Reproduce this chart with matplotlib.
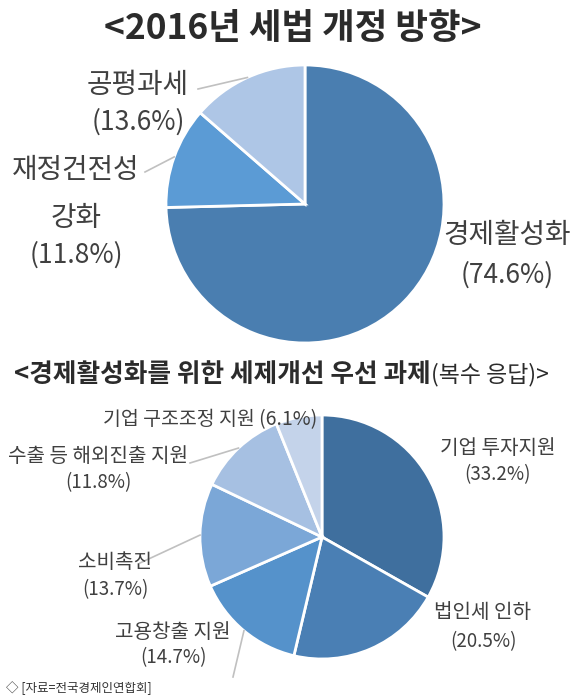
import matplotlib.pyplot as plt
import numpy as np

plt.rcParams['font.family'] = ['Noto Sans CJK KR', 'DejaVu Sans']

# data
title_top = "<2016년 세법 개정 방향>"
top_names = ["경제활성화", "재정건전성\n강화", "공평과세"]
top_values = [74.6, 11.8, 13.6]
top_colors = ["#4a7eb0", "#5b9bd5", "#aec6e6"]

title_bot_main = "<경제활성화를 위한 세제개선 우선 과제"
title_bot_sub = "(복수 응답)>"
bot_names = ["기업 투자지원", "법인세 인하", "고용창출 지원", "소비촉진",
             "수출 등 해외진출 지원", "기업 구조조정 지원"]
bot_values = [33.2, 20.5, 14.7, 13.7, 11.8, 6.1]
bot_colors = ["#3f6f9e", "#4a7fb4", "#5592cb", "#7ba7d7", "#a6c0e2", "#c4d3ea"]

source = "◇ [자료=전국경제인연합회]"

W, H = 582, 700
fig = plt.figure(figsize=(W / 100, H / 100), dpi=100)
fig.patch.set_facecolor("white")
txt_color = "#404040"
line_color = "#c0c0c0"


def make_pie_ax(cx, cy, r):
    ax = fig.add_axes([(cx - r) / W, (H - cy - r) / H, 2 * r / W, 2 * r / H])
    ax.axis("off")
    return ax


def to_data(px, py, cx, cy, r):
    return (px - cx) / r, (cy - py) / r


# ---- top pie
cx1, cy1, r1 = 305, 204, 139
ax1 = make_pie_ax(cx1, cy1, r1)
w1, _ = ax1.pie(top_values, colors=top_colors, startangle=90, counterclock=False,
                radius=1, wedgeprops=dict(edgecolor="white", linewidth=2))
ax1.set_xlim(-1, 1)
ax1.set_ylim(-1, 1)

# label layout: line centres (px), leader end (px) or None
top_layout = [
    (507, [235, 275], None),
    (76, [170, 218, 255], (145, 172)),
    (138, [85, 122], (198, 89)),
]
for wdg, name, val, (px, ys, lead) in zip(w1, top_names, top_values, top_layout):
    lines = name.split("\n") + [f"({val}%)"]
    for i, (s, py) in enumerate(zip(lines, ys)):
        x, y = to_data(px, py, cx1, cy1, r1)
        size = 19 if i == len(lines) - 1 else 20
        ax1.text(x, y, s, ha="center", va="center", fontsize=size,
                 color=txt_color, clip_on=False)
    if lead is not None:
        ang = np.deg2rad((wdg.theta1 + wdg.theta2) / 2)
        ex, ey = to_data(lead[0], lead[1], cx1, cy1, r1)
        ax1.plot([np.cos(ang), ex], [np.sin(ang), ey], color=line_color,
                 lw=1.2, clip_on=False)

# ---- bottom pie
cx2, cy2, r2 = 322, 537, 122
ax2 = make_pie_ax(cx2, cy2, r2)
w2, _ = ax2.pie(bot_values, colors=bot_colors, startangle=90, counterclock=False,
                radius=1, wedgeprops=dict(edgecolor="white", linewidth=2))
ax2.set_xlim(-1, 1)
ax2.set_ylim(-1, 1)

bot_layout = [
    (498, [448, 475], None, False),
    (483, [613, 642], None, False),
    (173, [632, 658], (233, 677), False),
    (115, [563, 590], (140, 563), False),
    (98, [457, 483], (190, 463), False),
    (210, [420], None, True),
]
for wdg, name, val, (px, ys, lead, one_line) in zip(w2, bot_names, bot_values, bot_layout):
    if lead is not None:
        ang = np.deg2rad((wdg.theta1 + wdg.theta2) / 2)
        ex, ey = to_data(lead[0], lead[1], cx2, cy2, r2)
        ax2.plot([np.cos(ang), ex], [np.sin(ang), ey], color=line_color,
                 lw=1.2, clip_on=False)
    if one_line:
        x, y = to_data(px, ys[0], cx2, cy2, r2)
        ax2.text(x, y, f"{name} ({val}%)", ha="center", va="center",
                 fontsize=14, color=txt_color, clip_on=False)
        continue
    for i, (s, py) in enumerate(zip([name, f"({val}%)"], ys)):
        x, y = to_data(px, py, cx2, cy2, r2)
        ax2.text(x, y, s, ha="center", va="center",
                 fontsize=14.5 if i == 0 else 13.5, color=txt_color, clip_on=False)

# ---- titles and source
fig.text(293 / W, 1 - 29 / H, title_top, ha="center", va="center",
         fontsize=25.5, fontweight="bold", color="#2b2b2b")
t2 = fig.text(14 / W, 1 - 375 / H, title_bot_main, ha="left", va="center",
              fontsize=18.5, fontweight="bold", color="#2b2b2b")
ax2.annotate(title_bot_sub, xy=(1, 0.5), xycoords=t2, va="center", ha="left",
             fontsize=16.5, color="#2b2b2b", annotation_clip=False)

fig.text(6 / W, 1 - 688 / H, source, ha="left", va="center", fontsize=9,
         color="#333333")

fig.savefig("out.png", dpi=100, facecolor="white")
